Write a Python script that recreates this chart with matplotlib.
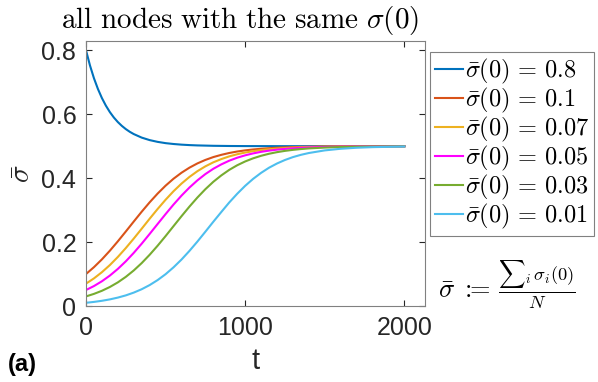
import matplotlib
matplotlib.use("Agg")
import matplotlib.pyplot as plt

plt.rcParams['font.family'] = ['Liberation Sans', 'DejaVu Sans']
plt.rcParams['mathtext.fontset'] = 'cm'

# time grid
t = [0, 50, 100, 150, 200, 250, 300, 350, 400, 450, 500, 550, 600, 650, 700,
     750, 800, 850, 900, 950, 1000, 1050, 1100, 1150, 1200, 1250, 1300, 1350,
     1400, 1500, 1600, 1700, 1800, 2000]

# the fast-decaying curve, read on a finer grid near t = 0
t_080 = [0, 25, 50, 75, 100, 125, 150, 175, 200, 225, 250, 275, 300, 350, 400,
         450, 500, 550, 600, 650, 700, 800, 900, 1000, 1200, 1400, 1600, 1800, 2000]
s_080 = [0.8, 0.7525, 0.7125, 0.6789, 0.6505, 0.6267, 0.6066, 0.5897, 0.5755,
         0.5636, 0.5535, 0.5450, 0.5379, 0.5268, 0.5190, 0.5135, 0.5095, 0.5068,
         0.5048, 0.5034, 0.5024, 0.5012, 0.5006, 0.5003, 0.5001, 0.5, 0.5, 0.5, 0.5]
s_010 = [0.1, 0.1215, 0.1459, 0.1730, 0.2023, 0.2330, 0.2642, 0.2950, 0.3244,
         0.3517, 0.3764, 0.3982, 0.4169, 0.4328, 0.4461, 0.4570, 0.4659, 0.4729,
         0.4787, 0.4833, 0.4869, 0.4897, 0.4919, 0.4937, 0.4951, 0.4962, 0.4970,
         0.4977, 0.4982, 0.4989, 0.4993, 0.4996, 0.4998, 0.4999]
s_007 = [0.07, 0.0864, 0.1058, 0.1281, 0.1534, 0.1812, 0.2109, 0.2418, 0.2731,
         0.3035, 0.3324, 0.3591, 0.3829, 0.4038, 0.4218, 0.4369, 0.4495, 0.4596,
         0.4681, 0.4748, 0.4801, 0.4844, 0.4878, 0.4904, 0.4925, 0.4941, 0.4954,
         0.4964, 0.4972, 0.4983, 0.4990, 0.4994, 0.4996, 0.4999]
s_005 = [0.05, 0.0624, 0.0774, 0.0952, 0.1160, 0.1397, 0.1662, 0.1950, 0.2255,
         0.2566, 0.2875, 0.3174, 0.3453, 0.3706, 0.3931, 0.4127, 0.4293, 0.4430,
         0.4546, 0.4639, 0.4714, 0.4774, 0.4823, 0.4861, 0.4891, 0.4915, 0.4933,
         0.4948, 0.4959, 0.4975, 0.4985, 0.4991, 0.4994, 0.4998]
s_003 = [0.03, 0.0379, 0.0476, 0.0595, 0.0739, 0.0911, 0.1112, 0.1343, 0.1603,
         0.1886, 0.2187, 0.2499, 0.2809, 0.3110, 0.3394, 0.3654, 0.3886, 0.4085,
         0.4259, 0.4403, 0.4522, 0.4620, 0.4699, 0.4763, 0.4813, 0.4853, 0.4885,
         0.4910, 0.4930, 0.4957, 0.4974, 0.4984, 0.4990, 0.4996]
s_001 = [0.01, 0.0128, 0.0163, 0.0207, 0.0263, 0.0332, 0.0419, 0.0525, 0.0655,
         0.0811, 0.0995, 0.1210, 0.1453, 0.1724, 0.2016, 0.2324, 0.2636, 0.2940,
         0.3239, 0.3511, 0.3759, 0.3977, 0.4165, 0.4326, 0.4458, 0.4568, 0.4658,
         0.4729, 0.4786, 0.4868, 0.4919, 0.4951, 0.4970, 0.4989]

times = [t_080, t, t, t, t, t]
series = [s_080, s_010, s_007, s_005, s_003, s_001]
labels = [r'$\bar{\sigma}(0)\,=\,0.8$', r'$\bar{\sigma}(0)\,=\,0.1$',
          r'$\bar{\sigma}(0)\,=\,0.07$', r'$\bar{\sigma}(0)\,=\,0.05$',
          r'$\bar{\sigma}(0)\,=\,0.03$', r'$\bar{\sigma}(0)\,=\,0.01$']
colors = ['#0072BD', '#D95319', '#EDB120', '#FF00FF', '#77AC30', '#4DBEEE']

xticks = [0, 1000, 2000]
yticks = [0, 0.2, 0.4, 0.6, 0.8]
yticklabels = ['0', '0.2', '0.4', '0.6', '0.8']

W, H = 598, 382
fig = plt.figure(figsize=(W / 100, H / 100), dpi=100)
ax = fig.add_axes([86 / W, 1 - 306 / H, 339 / W, (306 - 40.7) / H])

for tt, s, lab, c in zip(times, series, labels, colors):
    ax.plot(tt, s, color=c, lw=1.5, label=lab)

ax.set_xlim(0, 2130)
ax.set_ylim(0, 0.83)
ax.set_xticks(xticks)
ax.set_xticklabels([str(v) for v in xticks])
ax.set_yticks(yticks)
ax.set_yticklabels(yticklabels)
gray = '#262626'
for sp in ax.spines.values():
    sp.set_color('#808080')
    sp.set_linewidth(0.8)
ax.tick_params(direction='in', top=True, right=True, length=4, width=0.8,
               colors=gray, labelsize=18, pad=7)

ax.set_xlabel('t', fontsize=21, color=gray, labelpad=5)
ax.set_ylabel(r'$\bar{\sigma}$', fontsize=21, color=gray, labelpad=4)

fig.text(240 / W, 1 - 28 / H, r'$\mathrm{all\ nodes\ with\ the\ same\ }\sigma(0)$',
         ha='center', va='baseline', fontsize=21)

leg = ax.legend(loc='upper left', bbox_to_anchor=(430 / W, 1 - 51.7 / H),
                bbox_transform=fig.transFigure, borderaxespad=0, fancybox=False,
                fontsize=17.5, handlelength=1.15, handletextpad=0.1,
                labelspacing=0.0, borderpad=0.2, framealpha=1)
leg.get_frame().set_edgecolor('#808080')
leg.get_frame().set_linewidth(0.8)

fig.text(507 / W, 1 - 285 / H, r'$\bar{\sigma}\;:\!\!\!=\,\frac{{\sum}_i\,\sigma_i(0)}{N}$',
         ha='center', va='center', fontsize=19)

fig.text(8 / W, 1 - 371 / H, '(a)', fontsize=17, fontweight='bold',
         ha='left', va='baseline')

fig.savefig('out.png', dpi=100)
